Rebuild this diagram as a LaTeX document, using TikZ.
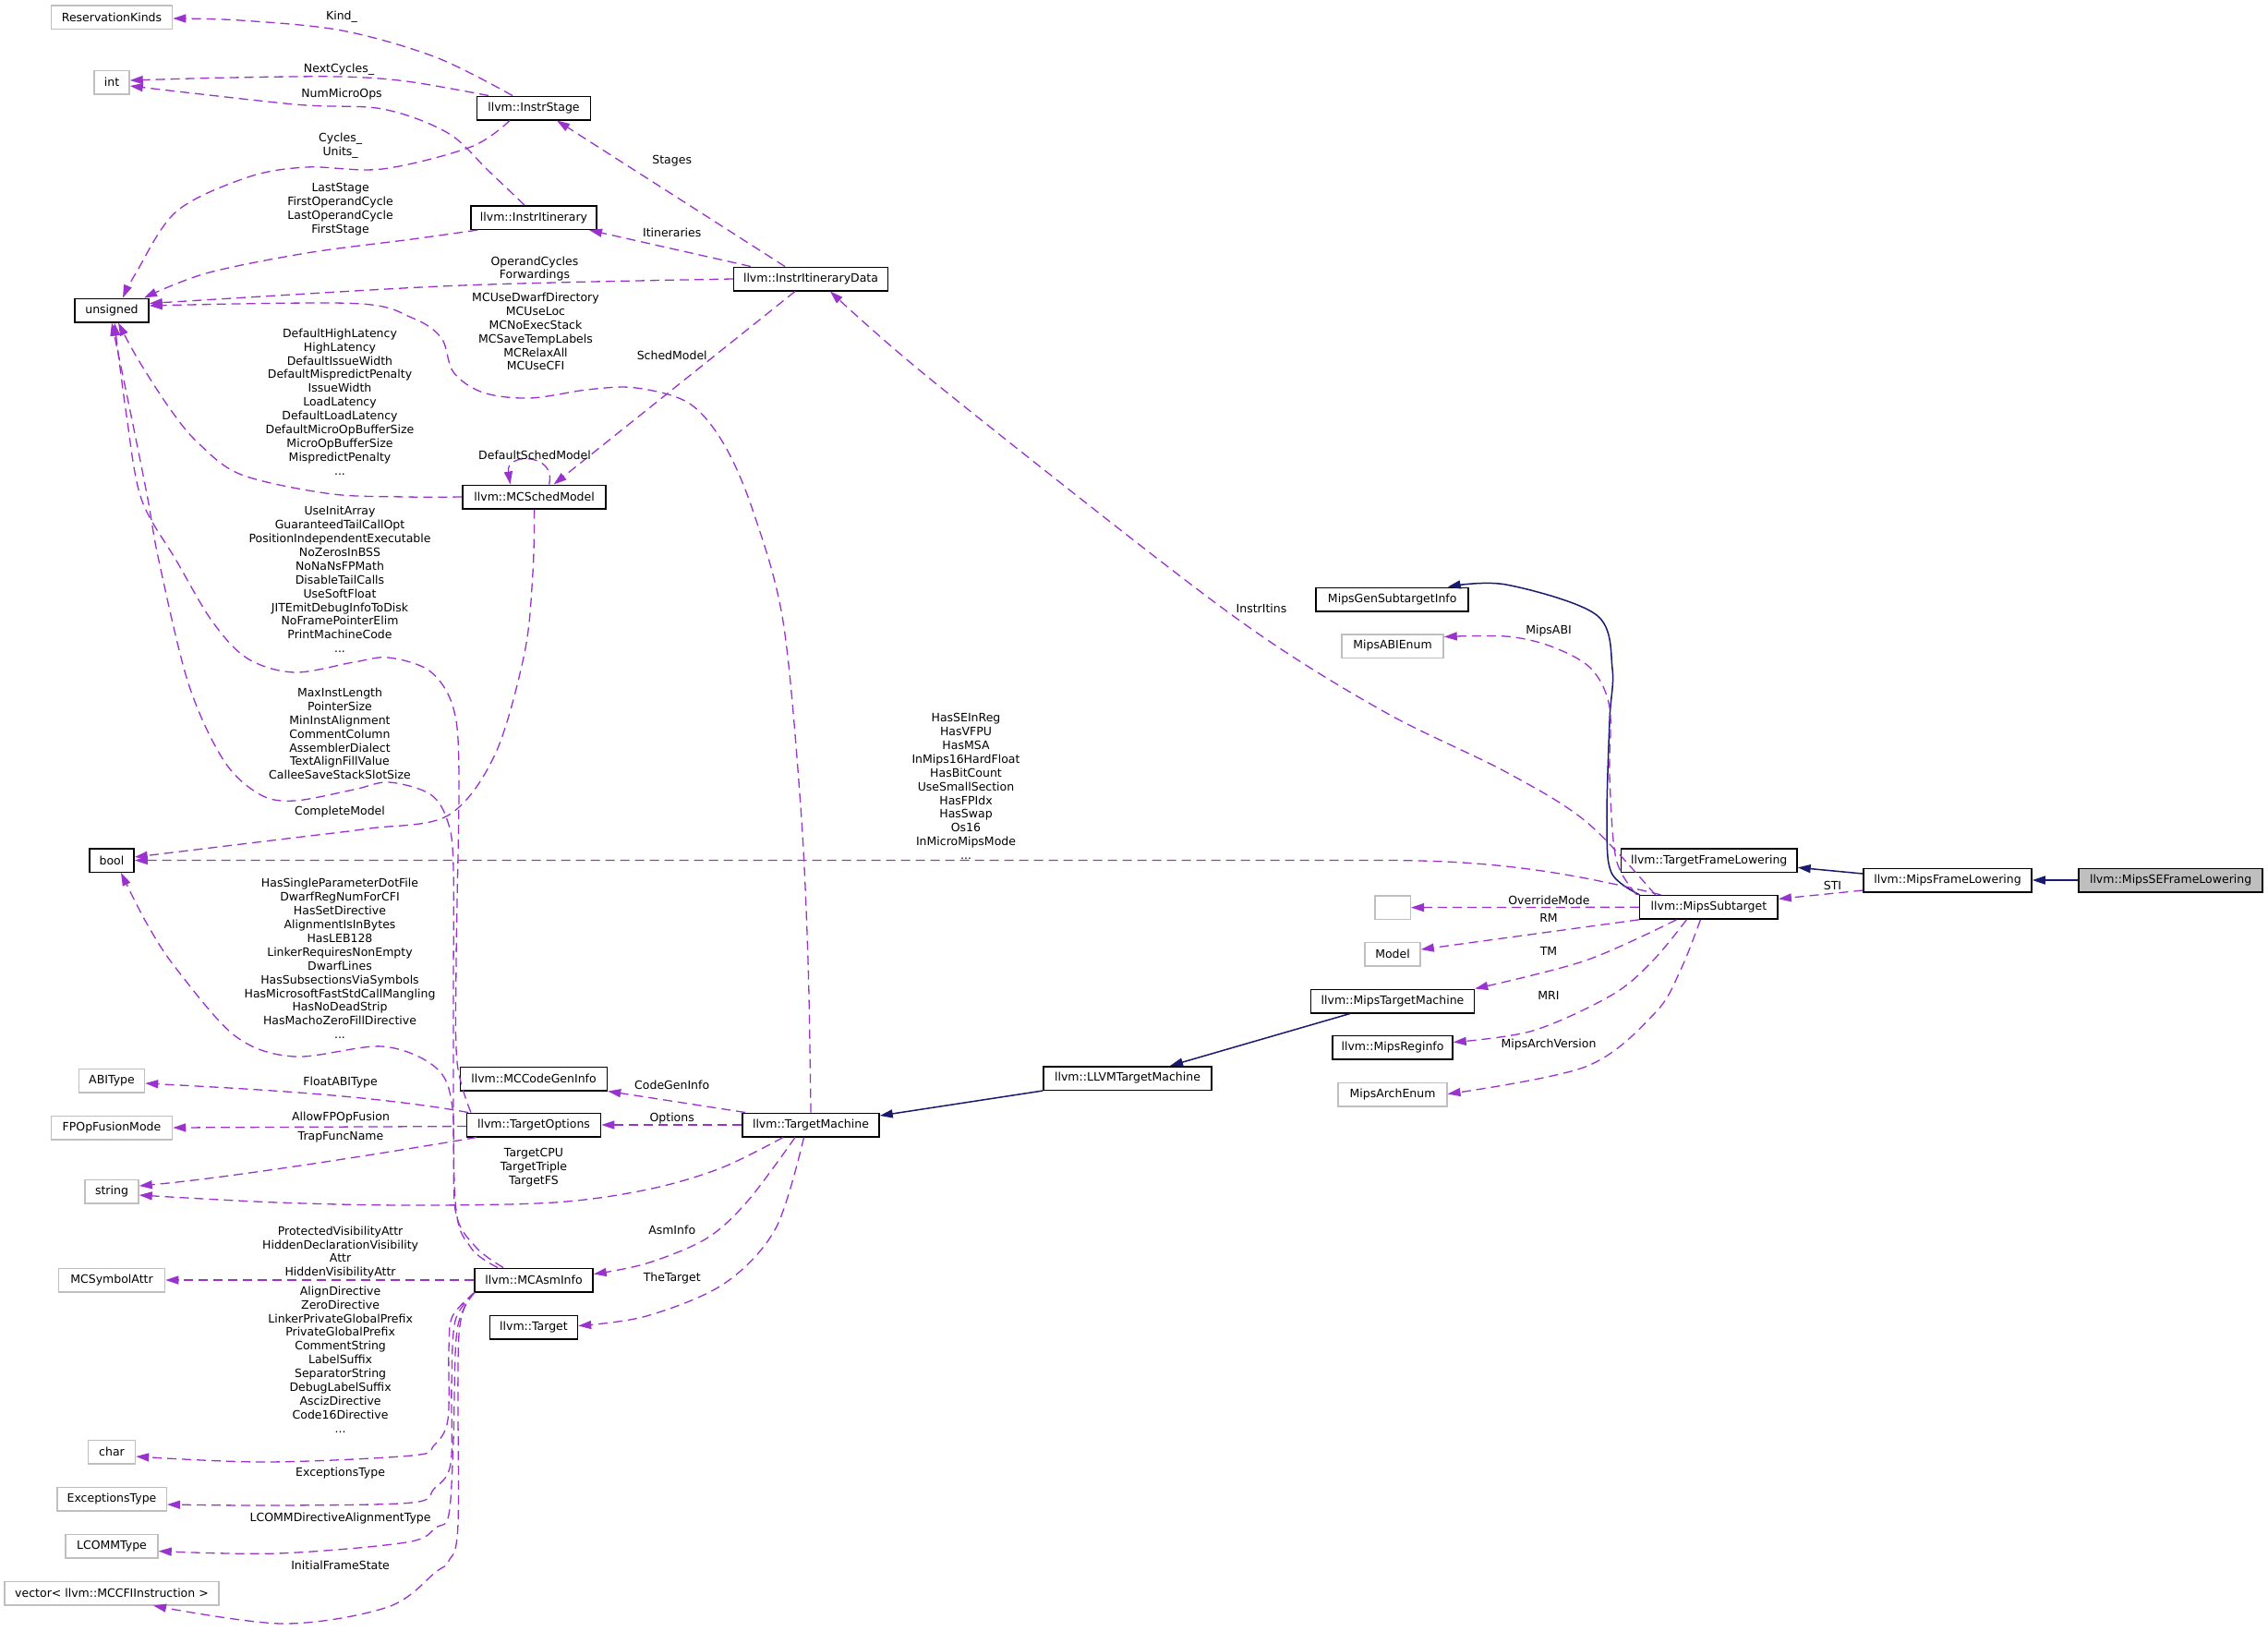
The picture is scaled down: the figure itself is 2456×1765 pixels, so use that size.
\documentclass[tikz,border=0pt]{standalone}
\usepackage{fontspec}
\setmainfont{DejaVu Sans}
\usetikzlibrary{arrows.meta}
\definecolor{purp}{HTML}{9A32CD}
\definecolor{navyb}{HTML}{191970}
\definecolor{grayb}{HTML}{BFBFBF}
\newcommand\lblfont{\fontsize{12.5}{14.9}\selectfont}
\tikzset{
 cls/.style={draw=black, line width=1.5pt, fill=white, minimum height=25.5pt, inner sep=0pt, font=\lblfont},
 ext/.style={cls, draw=grayb},
 dep/.style={draw=purp, line width=1.3pt, dash pattern=on 10pt off 6pt, -{Triangle[length=14pt,width=9pt]}},
 inh/.style={draw=navyb, line width=1.5pt, -{Triangle[length=14pt,width=9pt]}},
 lab/.style={font=\lblfont, align=center, inner sep=0pt},
 sm/.style={smooth, tension=0.55}
}
\begin{document}
\begin{tikzpicture}[x=1pt,y=-1pt]
\fill[white] (0,0) rectangle (2456,1765);
\useasboundingbox (0,0) rectangle (2456,1765);
% left column
\node[ext, minimum width=131pt] (resk) at (121,18.5) {ReservationKinds};
\node[ext, minimum width=38pt] (int) at (121,89) {int};
\node[cls, minimum width=80pt] (unsig) at (121,336) {unsigned};
\node[cls, minimum width=48pt] (bool) at (121,931.5) {bool};
\node[ext, minimum width=71pt] (abit) at (121,1170) {ABIType};
\node[ext, minimum width=131pt] (fpop) at (121,1221) {FPOpFusionMode};
\node[ext, minimum width=58pt] (str) at (121,1290) {string};
\node[ext, minimum width=115pt] (msa) at (121,1386) {MCSymbolAttr};
\node[ext, minimum width=51pt] (chr) at (121,1572) {char};
\node[ext, minimum width=118.5pt] (exc) at (121,1623) {ExceptionsType};
\node[ext, minimum width=100pt] (lcomm) at (121,1674) {LCOMMType};
\node[ext, minimum width=232pt] (vec) at (121,1725) {vector< llvm::MCCFIInstruction >};
% second column
\node[cls, minimum width=123pt] (istage) at (578,117) {llvm::InstrStage};
\node[cls, minimum width=136pt] (iitin) at (578,235.6) {llvm::InstrItinerary};
\node[cls, minimum width=155pt] (msched) at (578.6,538) {llvm::MCSchedModel};
\node[cls, minimum width=159pt] (mccg) at (578,1168) {llvm::MCCodeGenInfo};
\node[cls, minimum width=145pt] (topt) at (578,1218) {llvm::TargetOptions};
\node[cls, minimum width=128pt] (asm) at (578,1386) {llvm::MCAsmInfo};
\node[cls, minimum width=95pt] (tgt) at (578,1437) {llvm::Target};
% third column
\node[cls, minimum width=167pt] (iidata) at (878,302) {llvm::InstrItineraryData};
\node[cls, minimum width=148pt] (tm) at (878,1218) {llvm::TargetMachine};
\node[cls, minimum width=182pt] (llvmtm) at (1221,1167.5) {llvm::LLVMTargetMachine};
% fifth column
\node[cls, minimum width=165pt] (mgsi) at (1507.7,649) {MipsGenSubtargetInfo};
\node[ext, minimum width=110pt] (mabi) at (1508,699.5) {MipsABIEnum};
\node[ext, minimum width=38.5pt] (empty) at (1508,982.6) {};
\node[ext, minimum width=60pt] (model) at (1508,1033) {Model};
\node[cls, minimum width=177pt] (mtm) at (1508,1084) {llvm::MipsTargetMachine};
\node[cls, minimum width=130pt] (mreg) at (1508,1134.4) {llvm::MipsReginfo};
\node[ext, minimum width=117.6pt] (march) at (1508,1185) {MipsArchEnum};
% right
\node[cls, minimum width=190.5pt] (tfl) at (1850.7,931.7) {llvm::TargetFrameLowering};
\node[cls, minimum width=149.5pt] (msub) at (1850.4,982.3) {llvm::MipsSubtarget};
\node[cls, minimum width=182pt] (mfl) at (2109,953) {llvm::MipsFrameLowering};
\node[cls, minimum width=199pt, fill=grayb] (msefl) at (2350.6,953) {llvm::MipsSEFrameLowering};

% ---- edges ----
\draw[dep] plot[sm] coordinates {([xshift=-23pt]istage.north) (472,62) (370,33) (260,22) ([yshift=-1.5pt]resk.east)};
\draw[dep] plot[sm] coordinates {([xshift=-49pt]istage.north) (440,88) (367,83) (250,84) ([yshift=2pt]int.east)};
\draw[dep] plot[sm] coordinates {([xshift=-10pt]iitin.north) (529,185) (485,144) (414,118) (319,113) ([yshift=-4pt]int.east)};
\draw[dep] plot[sm] coordinates {([xshift=-26pt]istage.south) (510,159) (414,183) (332,181) (268,192) (191,229) (147,296) ([xshift=12pt]unsig.north)};
\draw[dep] plot[sm] coordinates {([xshift=-61pt]iitin.south) (446,259) (332,274) (223,296) ([xshift=35pt]unsig.north)};
\draw[dep] plot[sm] coordinates {(iidata.west) (600,306) (446,311.5) ([yshift=7.5pt]unsig.east)};
\draw[dep] plot[sm] coordinates {(tm.north) (875,1040) (867,873) (848,673) (816,555) (784,481) (746,436.5) (689,420) (638,421.7) (574,431) (523,425) (491,403) (478,366) (446,344) (383,328.5) ([yshift=5pt]unsig.east)};
\draw[dep] ([xshift=-28pt]iidata.north) -- ([xshift=25pt]istage.south);
\draw[dep] ([xshift=-65pt]iidata.north) -- ([xshift=60pt]iitin.south);
\draw[dep] ([xshift=-17pt]iidata.south) -- ([xshift=21pt]msched.north);
\draw[dep] ([xshift=16pt]msched.north) .. controls (603,490) and (547,490) .. ([xshift=-26pt]msched.north);
\draw[dep] plot[sm] coordinates {(msched.west) (440,538) (357,534.6) (261.5,514) (215,480) (185,444) (150,390) ([xshift=7pt]unsig.south)};
\draw[dep] plot[sm] coordinates {(msched.south) (577,620) (568,707) (536,817) (485,883) (400,897) (319,907) ([yshift=3.5pt]bool.east)};
\draw[dep] plot[sm] coordinates {([xshift=-68pt]topt.north) (495,1150) (494,1040) (497,840) (491,767) (466,727) (421,712) (383,717) (319,728) (268,713) (230,673) (191,607) (153,540) (137,450) ([xshift=3pt]unsig.south)};
\draw[dep] plot[sm] coordinates {([xshift=-39pt]asm.north) (510,1351) (493,1300) (491,1100) (491,940) (485,890) (466,860) (421,847) (383,855) (319,867) (281,860) (242,823) (204,740) (172,607) (160,540) (142,450) (unsig.south)};
\draw[dep] plot[sm] coordinates {([xshift=-33pt]asm.north) (515,1350) (493,1310) (490,1200) (472,1156) (414,1133) (319,1144) (255,1122) (191,1049) (159,1000) ([xshift=10pt]bool.south)};
\draw[dep] ([xshift=-71pt]tm.north) -- (mccg.south east);
\draw[dep] (tm.west) -- (topt.east);
\draw[dep] ([xshift=-71pt]topt.north) .. controls (400,1185) and (250,1178) .. ([yshift=-3pt]abit.east);
\draw[dep] ([yshift=-1.5pt]topt.west) -- (fpop.east);
\draw[dep] ([xshift=-62pt]topt.south) .. controls (420,1248) and (250,1275) .. ([yshift=6pt]str.east);
\draw[dep] plot[sm] coordinates {([xshift=-30pt]tm.south) (780,1265) (701,1288) (600,1302) (446,1305) (300,1302) ([yshift=-4pt]str.east)};
\draw[dep] plot[sm] coordinates {([xshift=-17pt]tm.south) (810,1300) (765,1341) (700,1368) ([yshift=6.5pt]asm.east)};
\draw[dep] plot[sm] coordinates {([xshift=-7.5pt]tm.south) (840,1330) (784,1390) (700,1425) ([yshift=1.5pt]tgt.east)};
\draw[dep] (asm.west) -- (msa.east);
\draw[dep] plot[sm] coordinates {([xshift=-64pt]asm.south) (490,1425) (486,1460) (485,1537) (470,1565) (446,1576) (287,1583) ([yshift=-5pt]chr.east)};
\draw[dep] plot[sm] coordinates {([xshift=-64pt]asm.south) (493,1430) (489,1500) (488,1585) (470,1612) (446,1627) (300,1630) ([yshift=-6pt]exc.east)};
\draw[dep] plot[sm] coordinates {([xshift=-64pt]asm.south) (495,1440) (491,1560) (486,1640) (472,1654) (440,1670) (300,1682) ([yshift=-5.5pt]lcomm.east)};
\draw[dep] plot[sm] coordinates {([xshift=-64pt]asm.south) (497,1445) (496,1650) (486,1690) (472,1702) (420,1740) (306,1758) ([xshift=45pt]vec.south)};
% right side
\draw[inh] plot[sm] coordinates {([xshift=-75pt]msub.north) (1745,945) (1740,890) (1743,780) (1746,724) (1729,666) (1631,633) ([xshift=60pt]mgsi.north)};
\draw[dep] plot[sm] coordinates {([xshift=-78pt]msub.north) (1750,930) (1743,840) (1743,766) (1723,724) (1680,700) (1631,689) ([yshift=10pt]mabi.east)};
\draw[dep] plot[sm] coordinates {([xshift=-58pt]msub.north) (1718,890) (1631,836) (1505,774) (1377,696) (1247,600) (1002,406) ([xshift=21pt]iidata.south)};
\draw[dep] ([xshift=-52pt]msub.north) .. controls (1700,945) and (1620,931.5) .. (1500,931.5) -- (bool.east);
\draw[dep] (msub.west) -- (empty.east);
\draw[dep] (msub.south west) -- ([yshift=5pt]model.east);
\draw[dep] plot[sm] coordinates {([xshift=-35pt]msub.south) (1717,1040) (mtm.north east)};
\draw[dep] plot[sm] coordinates {([xshift=-24pt]msub.south) (1790,1040) (1746,1077) (1660,1116) ([yshift=6pt]mreg.east)};
\draw[dep] plot[sm] coordinates {([xshift=-9pt]msub.south) (1820,1050) (1792,1097) (1717,1155) ([yshift=0.5pt]march.east)};
\draw[dep] ([yshift=-11pt]mfl.west) -- ([yshift=9pt]msub.east);
\draw[inh] ([yshift=7pt]mfl.west) -- ([yshift=-7.6pt]tfl.east);
\draw[inh] (msefl.west) -- (mfl.east);
\draw[inh] (llvmtm.south west) -- ([yshift=10pt]tm.east);
\draw[inh] ([xshift=-46pt]mtm.south) -- ([xshift=46pt]llvmtm.north);

% ---- labels ----
\node[lab] (l1) at (370,18.5) {Kind\_};
\node[lab] (l2) at (367,75.5) {NextCycles\_};
\node[lab] (l3) at (370,102.5) {NumMicroOps};
\node[lab] (l4) at (368.6,157.6) {Cycles\_\\Units\_};
\node[lab] (l5) at (368.6,226.6) {LastStage\\FirstOperandCycle\\LastOperandCycle\\FirstStage};
\node[lab] (l6) at (727.7,174.6) {Stages};
\node[lab] (l7) at (727.7,251.6) {Itineraries};
\node[lab] (l8) at (579,291) {OperandCycles\\Forwardings};
\node[lab] (l9) at (580,359) {MCUseDwarfDirectory\\MCUseLoc\\MCNoExecStack\\MCSaveTempLabels\\MCRelaxAll\\MCUseCFI};
\node[lab] (l10) at (727.7,384.4) {SchedModel};
\node[lab] (l11) at (368,435) {DefaultHighLatency\\HighLatency\\DefaultIssueWidth\\DefaultMispredictPenalty\\IssueWidth\\LoadLatency\\DefaultLoadLatency\\DefaultMicroOpBufferSize\\MicroOpBufferSize\\MispredictPenalty\\...};
\node[lab] (l12) at (579,492.4) {DefaultSchedModel};
\node[lab] (l13) at (368,627.5) {UseInitArray\\GuaranteedTailCallOpt\\PositionIndependentExecutable\\NoZerosInBSS\\NoNaNsFPMath\\DisableTailCalls\\UseSoftFloat\\JITEmitDebugInfoToDisk\\NoFramePointerElim\\PrintMachineCode\\...};
\node[lab] (l14) at (368,794.5) {MaxInstLength\\PointerSize\\MinInstAlignment\\CommentColumn\\AssemblerDialect\\TextAlignFillValue\\CalleeSaveStackSlotSize};
\node[lab] (l15) at (368,878.7) {CompleteModel};
\node[lab] (l16) at (368,1038) {HasSingleParameterDotFile\\DwarfRegNumForCFI\\HasSetDirective\\AlignmentIsInBytes\\HasLEB128\\LinkerRequiresNonEmpty\\DwarfLines\\HasSubsectionsViaSymbols\\HasMicrosoftFastStdCallMangling\\HasNoDeadStrip\\HasMachoZeroFillDirective\\...};
\node[lab] (l17) at (368.6,1172) {FloatABIType};
\node[lab] (l18) at (369,1210) {AllowFPOpFusion};
\node[lab] (l19) at (369,1231) {TrapFuncName};
\node[lab] (l20) at (578,1264.5) {TargetCPU\\TargetTriple\\TargetFS};
\node[lab] (l21) at (727.7,1175) {CodeGenInfo};
\node[lab] (l22) at (727.7,1211) {Options};
\node[lab] (l23) at (727.7,1332) {AsmInfo};
\node[lab] (l24) at (727.7,1384) {TheTarget};
\node[lab] (l25) at (368.6,1356) {ProtectedVisibilityAttr\\HiddenDeclarationVisibility\\Attr\\HiddenVisibilityAttr};
\node[lab] (l26) at (368.6,1472) {AlignDirective\\ZeroDirective\\LinkerPrivateGlobalPrefix\\PrivateGlobalPrefix\\CommentString\\LabelSuffix\\SeparatorString\\DebugLabelSuffix\\AscizDirective\\Code16Directive\\...};
\node[lab] (l27) at (368.6,1594.6) {ExceptionsType};
\node[lab] (l28) at (368.6,1644) {LCOMMDirectiveAlignmentType};
\node[lab] (l29) at (368.6,1695) {InitialFrameState};
\node[lab] (l30) at (1366,659) {InstrItins};
\node[lab] (l31) at (1677,683) {MipsABI};
\node[lab] (l32) at (1046,851.5) {HasSEInReg\\HasVFPU\\HasMSA\\InMips16HardFloat\\HasBitCount\\UseSmallSection\\HasFPIdx\\HasSwap\\Os16\\InMicroMipsMode\\...};
\node[lab] (l33) at (1677.4,974.4) {OverrideMode};
\node[lab] (l34) at (1677,994.3) {RM};
\node[lab] (l35) at (1677,1030.3) {TM};
\node[lab] (l36) at (1677,1078.4) {MRI};
\node[lab] (l37) at (1677,1131.5) {MipsArchVersion};
\node[lab] (l38) at (1984.5,959.3) {STI};
\end{tikzpicture}
\end{document}
